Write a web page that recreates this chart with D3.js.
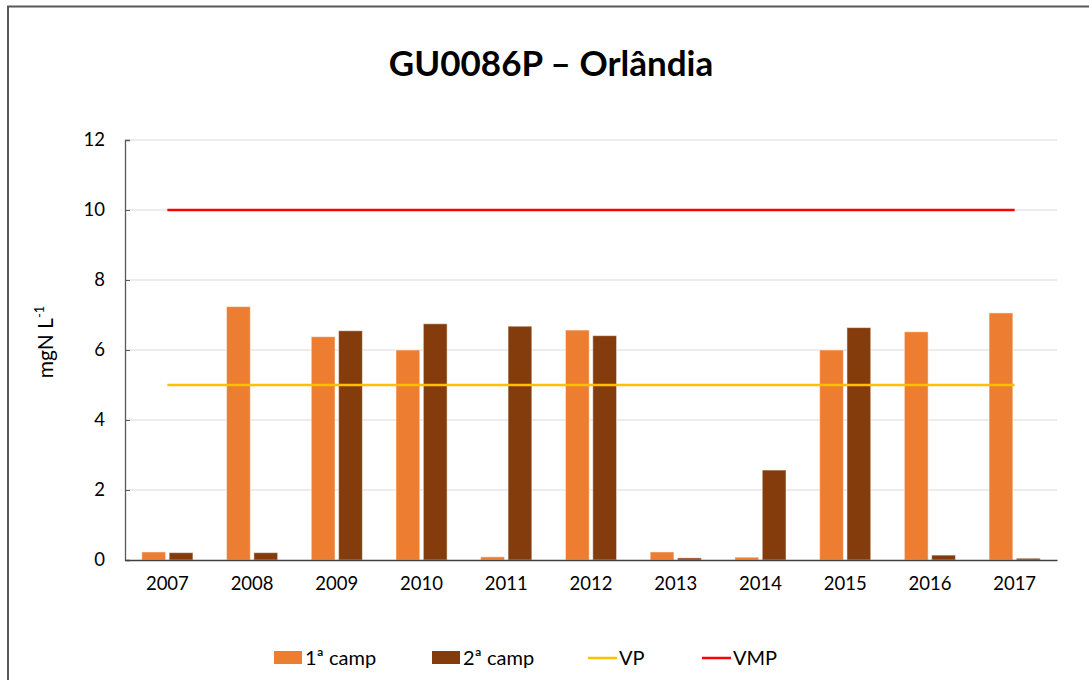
<!DOCTYPE html>
<html>
<head>
<meta charset="utf-8">
<script src="https://cdn.jsdelivr.net/npm/d3@7"></script>
<style>
  body { margin: 0; background: #fff; }
  svg text { font-family: Lato, "Open Sans", sans-serif; fill: #000; }
</style>
</head>
<body>
<div id="chart"></div>
<script>
// GU0086P - nitrate per campaign, mgN/L
const years = ['2007', '2008', '2009', '2010', '2011', '2012', '2013', '2014', '2015', '2016', '2017'];
const camp1 = [0.23, 7.24, 6.38, 6.0, 0.09, 6.57, 0.23, 0.08, 6.0, 6.52, 7.06];
const camp2 = [0.21, 0.21, 6.55, 6.75, 6.68, 6.41, 0.06, 2.57, 6.64, 0.14, 0.05];
const vpValue = 5;
const vmpValue = 10;
const yTicks = [0, 2, 4, 6, 8, 10, 12];
const seriesNames = ['1ª camp', '2ª camp', 'VP', 'VMP'];

const width = 1089;
const height = 680;
const plot = { left: 125, right: 1057, top: 140, bottom: 560 };

const colors = {
  camp1: '#ED7D31',
  camp2: '#843C0C',
  vp: '#FFC000',
  vmp: '#FF0000'
};

const svg = d3.select('#chart')
  .append('svg')
  .attr('width', width)
  .attr('height', height);

// outer frame of the chart object
svg.append('rect')
  .attr('x', 8)
  .attr('y', 6.5)
  .attr('width', width + 20)
  .attr('height', height + 20)
  .attr('fill', 'none')
  .attr('stroke', '#595959')
  .attr('stroke-width', 2);

svg.append('text')
  .attr('x', 551)
  .attr('y', 76)
  .attr('text-anchor', 'middle')
  .attr('font-size', 35)
  .attr('font-weight', 'bold')
  .text('GU0086P – Orlândia');

const x = d3.scaleBand()
  .domain(years)
  .range([plot.left, plot.right]);

const xInner = d3.scaleBand()
  .domain(['camp1', 'camp2'])
  .range([16.8, x.bandwidth() - 16.8])
  .paddingInner(0.13);

const y = d3.scaleLinear()
  .domain([0, 12])
  .range([plot.bottom, plot.top]);

// gridlines
svg.append('g')
  .selectAll('line')
  .data(yTicks.filter(t => t > 0))
  .join('line')
  .attr('x1', plot.left)
  .attr('x2', plot.right)
  .attr('y1', d => y(d))
  .attr('y2', d => y(d))
  .attr('stroke', '#d9d9d9')
  .attr('stroke-width', 1.2);

// y axis
const yAxis = svg.append('g')
  .attr('transform', `translate(${plot.left},0)`)
  .call(d3.axisLeft(y).tickValues(yTicks).tickSize(-5).tickPadding(20));
yAxis.select('.domain').attr('stroke', '#595959').attr('stroke-width', 1.3);
yAxis.selectAll('.tick line').attr('stroke', '#595959');
yAxis.selectAll('.tick text')
  .attr('font-size', 18.5)
  .attr('font-family', 'Lato, sans-serif');

// bars
const groups = svg.append('g')
  .selectAll('g')
  .data(years)
  .join('g')
  .attr('transform', d => `translate(${x(d)},0)`);

groups.append('rect')
  .attr('x', xInner('camp1'))
  .attr('width', xInner.bandwidth())
  .attr('y', (d, i) => y(camp1[i]))
  .attr('height', (d, i) => y(0) - y(camp1[i]))
  .attr('fill', colors.camp1)
  .attr('stroke', '#fff')
  .attr('stroke-opacity', 0.5);

groups.append('rect')
  .attr('x', xInner('camp2'))
  .attr('width', xInner.bandwidth())
  .attr('y', (d, i) => y(camp2[i]))
  .attr('height', (d, i) => y(0) - y(camp2[i]))
  .attr('fill', colors.camp2)
  .attr('stroke', '#fff')
  .attr('stroke-opacity', 0.5);

// x axis
const xAxis = svg.append('g')
  .attr('transform', `translate(0,${plot.bottom})`)
  .call(d3.axisBottom(x).tickSize(0).tickPadding(17));
xAxis.select('.domain').attr('stroke', '#404040').attr('stroke-width', 1.5);
xAxis.selectAll('.tick text')
  .attr('font-size', 18.5)
  .attr('font-family', 'Lato, sans-serif');

// limit lines
const limitLine = d3.line()
  .x(d => x(d.year) + x.bandwidth() / 2)
  .y(d => y(d.value));

svg.append('path')
  .datum(years.map(yr => ({ year: yr, value: vpValue })))
  .attr('d', limitLine)
  .attr('fill', 'none')
  .attr('stroke', colors.vp)
  .attr('stroke-width', 2.5);

svg.append('path')
  .datum(years.map(yr => ({ year: yr, value: vmpValue })))
  .attr('d', limitLine)
  .attr('fill', 'none')
  .attr('stroke', colors.vmp)
  .attr('stroke-width', 2.5);

// y label with superscript
const yLabel = svg.append('text')
  .attr('transform', 'translate(53,342) rotate(-90)')
  .attr('text-anchor', 'middle')
  .attr('font-size', 21);
yLabel.append('tspan').text('mgN L');
yLabel.append('tspan')
  .attr('dy', -9)
  .attr('font-size', 13)
  .text('-1');

// legend
const legendItems = [
  { name: seriesNames[0], color: colors.camp1, type: 'rect', x: 274 },
  { name: seriesNames[1], color: colors.camp2, type: 'rect', x: 432 },
  { name: seriesNames[2], color: colors.vp, type: 'line', x: 588 },
  { name: seriesNames[3], color: colors.vmp, type: 'line', x: 702 }
];

const legend = svg.append('g')
  .selectAll('g')
  .data(legendItems)
  .join('g')
  .attr('transform', d => `translate(${d.x},658)`);

legend.filter(d => d.type === 'rect')
  .append('rect')
  .attr('x', 0)
  .attr('y', -7)
  .attr('width', 28)
  .attr('height', 13)
  .attr('fill', d => d.color);

legend.filter(d => d.type === 'line')
  .append('line')
  .attr('x1', 0)
  .attr('x2', 29)
  .attr('y1', 0)
  .attr('y2', 0)
  .attr('stroke', d => d.color)
  .attr('stroke-width', 2.5);

legend.append('text')
  .attr('x', 31)
  .attr('y', 7)
  .attr('font-size', 20)
  .text(d => d.name);
</script>
</body>
</html>
